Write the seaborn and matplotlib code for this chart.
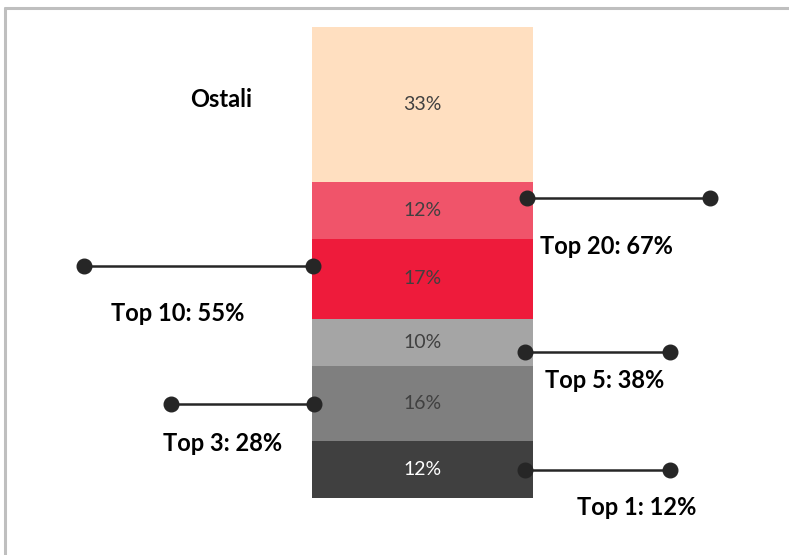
import matplotlib
matplotlib.use("Agg")
import matplotlib.pyplot as plt
from matplotlib.lines import Line2D
import seaborn as sns
import pandas as pd
import numpy as np

# ---- data ----
segments = ["Top 1", "Top 2-3", "Top 4-5", "Top 6-10", "Top 11-20", "Ostali"]
shares = [12, 16, 10, 17, 12, 33]
seg_colors = ["#404040", "#7f7f7f", "#a5a5a5", "#ee1b3b", "#f0546a", "#ffdfc0"]
seg_text_colors = ["#ffffff", "#404040", "#404040", "#404040", "#404040", "#404040"]

group_labels = ["Top 1: 12%", "Top 3: 28%", "Top 5: 38%", "Top 10: 55%", "Top 20: 67%"]
connector_y = [6.0, 20.0, 31.0, 49.3, 63.7]
other_label = "Ostali"

# ---- layout constants ----
conn_x = [(0.464, 1.120), (-0.491, -1.138), (0.464, 1.120), (-0.496, -1.532), (0.473, 1.301)]
label_xy = [(0.971, -2.0), (-0.903, 11.6), (0.826, 24.9), (-1.106, 39.2), (0.830, 53.4)]
other_xy = (-0.912, 84.6)

sns.set_theme(style="white")
plt.rcParams["font.family"] = ["Lato", "DejaVu Sans"]

fig = plt.figure(figsize=(7.89, 5.55), dpi=100)
ax = fig.add_axes([0, 0, 1, 1])

cum = np.cumsum(shares)
df = pd.DataFrame({"bar": ["A"] * len(segments), "segment": segments, "cum": cum})
order = segments[::-1]
pal = dict(zip(segments, seg_colors))
sns.barplot(data=df, x="bar", y="cum", hue="segment", hue_order=order, palette=pal,
            dodge=False, width=1.0, legend=False, ax=ax, saturation=1, linewidth=0, errorbar=None)

# segment labels
bottoms = cum - np.array(shares)
for b, s, tc in zip(bottoms, shares, seg_text_colors):
    ax.text(0, b + s / 2, f"{s}%", ha="center", va="center", fontsize=14, color=tc)

# connectors
for (x0, x1), y in zip(conn_x, connector_y):
    ax.plot([x0, x1], [y, y], color="#262626", lw=1.8, marker="o", markersize=10.5,
            solid_capstyle="butt", zorder=5)

for (x, y), t in zip(label_xy, group_labels):
    ax.text(x, y, t, ha="center", va="center", fontsize=17, fontweight="bold", color="#000000")
ax.text(other_xy[0], other_xy[1], other_label, ha="center", va="center", fontsize=17,
        fontweight="bold", color="#000000")

ax.set_xlim(-1.912, 1.658)
ax.set_ylim(-12.10, 105.73)
ax.axis("off")

# frame
fig.add_artist(Line2D([5 / 789, 1.01], [1 - 8 / 555, 1 - 8 / 555], transform=fig.transFigure,
                      color="#bfbfbf", lw=2.2))
fig.add_artist(Line2D([5 / 789, 5 / 789], [1 - 8 / 555, -0.01], transform=fig.transFigure,
                      color="#bfbfbf", lw=2.2))

fig.savefig("out.png", dpi=100)
